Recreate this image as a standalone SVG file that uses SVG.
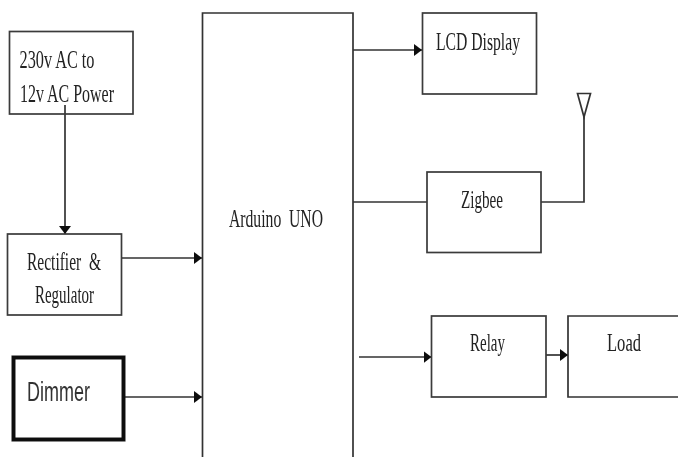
<svg xmlns="http://www.w3.org/2000/svg" width="678" height="457" viewBox="0 0 678 457">
<style>
.b{fill:#fff;stroke:#3a3a3a;stroke-width:1.7}
.l{fill:none;stroke:#333;stroke-width:1.7}
.t{font-family:"Liberation Serif","Times New Roman",serif;font-size:25px;fill:#222}
</style>
<defs>
<filter id="s" filterUnits="userSpaceOnUse" x="0" y="0" width="678" height="457"><feGaussianBlur stdDeviation="0.6"/></filter>
<marker id="a" markerUnits="userSpaceOnUse" markerWidth="9" markerHeight="12" refX="8" refY="6" orient="auto"><path d="M0 0L8 6L0 12Z" fill="#111"/></marker>
</defs>
<rect width="678" height="457" fill="#fff"/>
<g filter="url(#s)">
<g id="connectors">
<path class="l" d="M65 105V234" marker-end="url(#a)"/>
<path class="l" d="M122 258H202" marker-end="url(#a)"/>
<path class="l" d="M124 397H202" marker-end="url(#a)"/>
<path class="l" d="M353 50H422" marker-end="url(#a)"/>
<path class="l" d="M353 202H427"/>
<path class="l" d="M541 202H584V117"/>
<path class="l" d="M359 357H431.500" marker-end="url(#a)"/>
<path class="l" d="M546 355H568" marker-end="url(#a)"/>
</g>
<g id="power"><rect class="b" style="fill:none" x="9.500" y="31.500" width="123.500" height="82.500"/>
<text class="t" x="19.500" y="68" textLength="75" lengthAdjust="spacingAndGlyphs">230v AC to</text>
<text class="t" x="20" y="102" textLength="94" lengthAdjust="spacingAndGlyphs">12v AC Power</text></g>
<g id="rectifier"><rect class="b" x="7.500" y="234" width="114" height="81"/>
<text class="t" x="27" y="270" textLength="74" lengthAdjust="spacingAndGlyphs" xml:space="preserve">Rectifier  &amp;</text>
<text class="t" x="35" y="303" textLength="59" lengthAdjust="spacingAndGlyphs">Regulator</text></g>
<g id="dimmer"><rect x="13.500" y="357.500" width="110" height="82" fill="none" stroke="#111" stroke-width="4"/>
<text x="27" y="401" font-family="Liberation Sans,Arial,sans-serif" font-size="28" fill="#333" textLength="63" lengthAdjust="spacingAndGlyphs">Dimmer</text></g>
<g id="arduino"><path class="l" d="M202.500 458V13H353V458"/>
<text class="t" x="229" y="227" textLength="94" lengthAdjust="spacingAndGlyphs" xml:space="preserve">Arduino  UNO</text></g>
<g id="lcd"><rect class="b" x="422.500" y="13" width="114" height="81"/>
<text class="t" x="436" y="50" textLength="84" lengthAdjust="spacingAndGlyphs">LCD Display</text></g>
<g id="zigbee"><rect class="b" x="427" y="172" width="114" height="80.500"/>
<text class="t" x="461" y="208" textLength="42" lengthAdjust="spacingAndGlyphs">Zigbee</text></g>
<g id="antenna"><path class="l" d="M577.500 93.500H590.500L584 117Z"/></g>
<g id="relay"><rect class="b" x="431.500" y="316" width="114.500" height="81"/>
<text class="t" x="470" y="351" textLength="35" lengthAdjust="spacingAndGlyphs">Relay</text></g>
<g id="load"><path class="l" d="M680 316H568V397H680"/>
<text class="t" x="607" y="351" textLength="34" lengthAdjust="spacingAndGlyphs">Load</text></g>
</g>
</svg>
